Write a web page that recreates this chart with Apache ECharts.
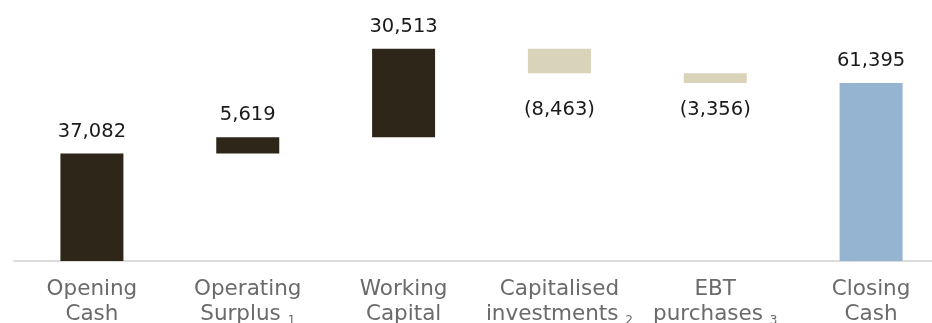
<!DOCTYPE html>
<html>
<head>
<meta charset="utf-8">
<script src="https://cdn.jsdelivr.net/npm/echarts@6/dist/echarts.min.js"></script>
<style>
  html, body { margin: 0; padding: 0; background: #fff; }
  #chart { width: 932px; height: 323px; }
</style>
</head>
<body>
<div id="chart"></div>
<script>
// Cash movement bridge: opening balance, movements, closing balance
const categories = [
  '{t|Opening}\n{t|Cash}',
  '{t|Operating}\n{t|Surplus }{s|1}',
  '{t|Working}\n{t|Capital}',
  '{t|Capitalised}\n{t|investments }{s|2}',
  '{t|EBT}\n{t|purchases }{s|3}',
  '{t|Closing}\n{t|Cash}'
];
const values = [37082, 5619, 30513, -8463, -3356, 61395];
const kinds = ['total', 'delta', 'delta', 'delta', 'delta', 'total'];
// extra gap between a negative bar and its label
const negLabelGap = [0, 0, 0, 22, 12, 0];

const DARK = '#2d2619';
const BEIGE = '#d9d3ba';
const BLUE = '#95b4d2';

// invisible base + visible segment for each step
const base = [];
const seg = [];
let running = 0;
values.forEach((v, i) => {
  if (kinds[i] === 'total') {
    base.push(0);
    seg.push(v);
    running = v;
  } else {
    const lo = v >= 0 ? running : running + v;
    base.push(lo);
    seg.push(Math.abs(v));
    running += v;
  }
});

function fmt(v) {
  const s = Math.abs(v).toLocaleString('en-US');
  return v < 0 ? '(' + s + ')' : s;
}

function colorFor(i) {
  if (i === values.length - 1) return BLUE;
  return values[i] < 0 ? BEIGE : DARK;
}

const segData = seg.map((h, i) => ({
  value: h,
  itemStyle: { color: colorFor(i) },
  label: values[i] < 0
    ? { position: 'bottom', distance: 5 + negLabelGap[i] }
    : { position: 'top', distance: 12 }
}));

const FONT = '"DejaVu Sans", sans-serif';

const chart = echarts.init(document.getElementById('chart'), null, { renderer: 'canvas' });
chart.setOption({
  animation: false,
  backgroundColor: '#fff',
  grid: { left: 14, width: 935, top: 29, bottom: 62, containLabel: false, outerBoundsMode: 'none' },
  xAxis: {
    type: 'category',
    data: categories,
    axisLine: { show: true, lineStyle: { color: '#dcdcdc', width: 2 } },
    axisTick: { show: false },
    axisLabel: {
      margin: 16,
      interval: 0,
      hideOverlap: false,
      formatter: v => v,
      rich: {
        t: { fontFamily: FONT, fontSize: 21.5, color: '#6a6a6a', lineHeight: 25 },
        s: { fontFamily: FONT, fontSize: 12, color: '#6a6a6a', lineHeight: 25, verticalAlign: 'bottom', padding: [6, 0, 0, 0] }
      }
    }
  },
  yAxis: {
    type: 'value',
    min: 0,
    max: 80000,
    show: false,
    splitLine: { show: false }
  },
  series: [
    {
      type: 'bar',
      stack: 'w',
      data: base,
      itemStyle: { color: 'transparent' },
      barWidth: 63,
      silent: true
    },
    {
      type: 'bar',
      stack: 'w',
      data: segData,
      barWidth: 63,
      label: {
        show: true,
        fontFamily: FONT,
        fontSize: 19.5,
        color: '#1a1a1a',
        formatter: p => fmt(values[p.dataIndex])
      }
    }
  ]
});
</script>
</body>
</html>
